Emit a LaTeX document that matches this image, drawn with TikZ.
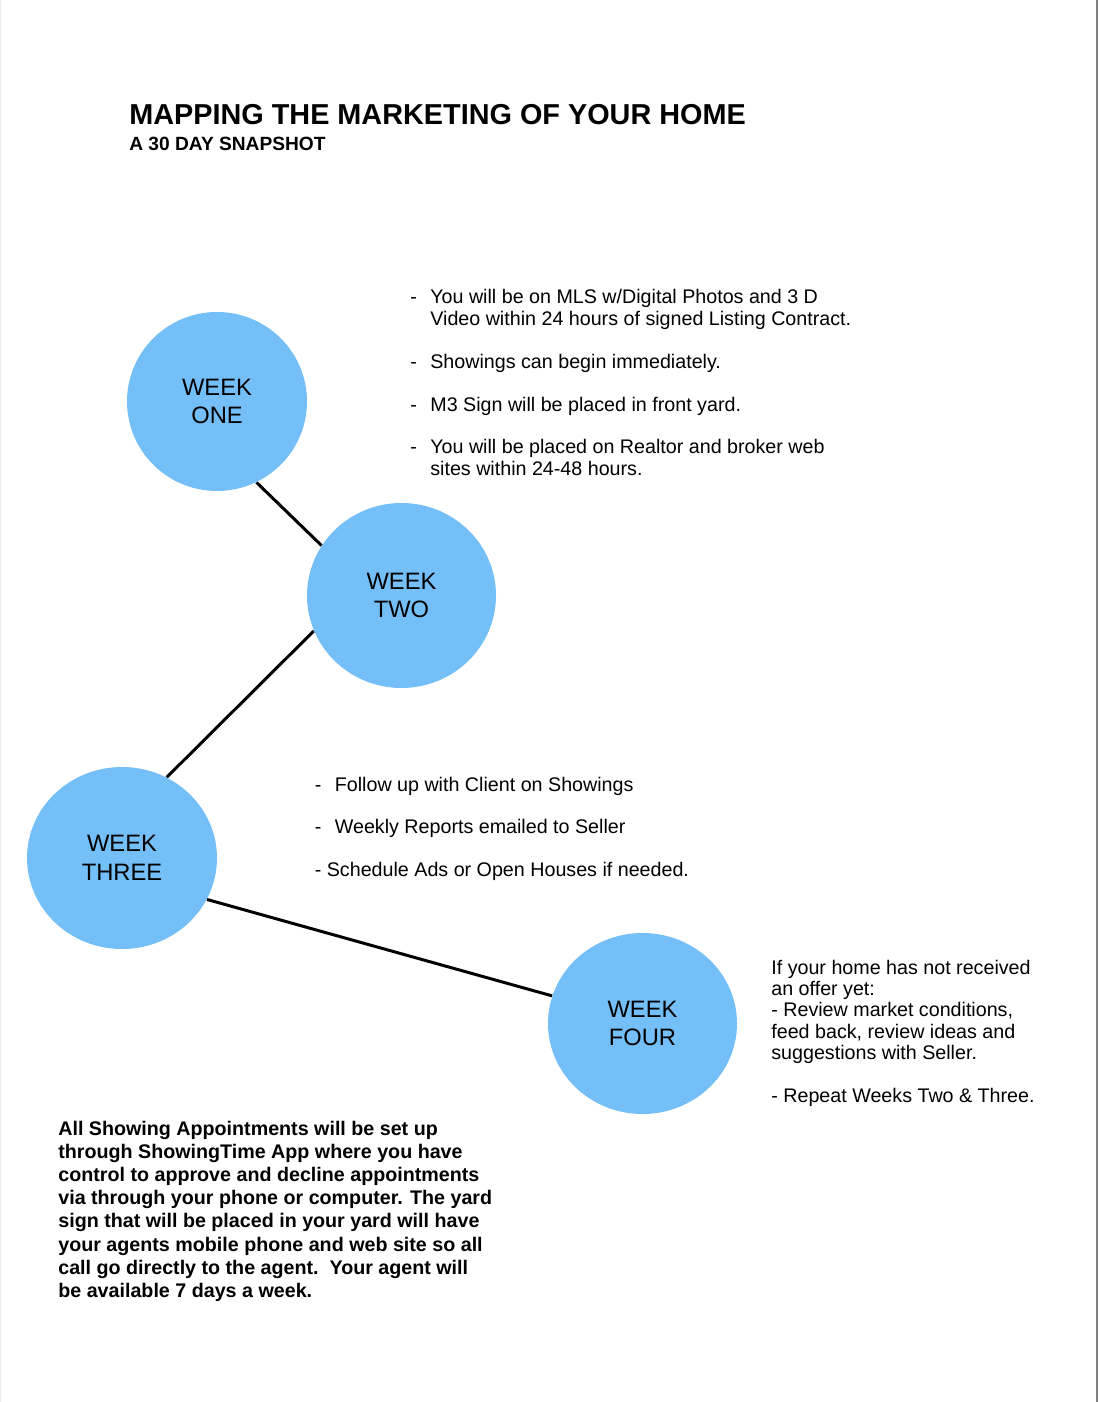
\documentclass[tikz,border=0pt]{standalone}
\usepackage{fontspec}
\setmainfont{Liberation Sans}
\usetikzlibrary{shapes.geometric}
\pgfdeclarelayer{edgelayer}
\pgfdeclarelayer{nodelayer}
\pgfsetlayers{edgelayer,nodelayer,main}
\definecolor{weekblue}{RGB}{116,191,247}
\tikzstyle{edge}=[draw=black, line width=1.7pt]
\tikzstyle{week}=[ellipse, fill=weekblue, inner sep=0, align=center, font=\fontsize{13.5}{16.2}\selectfont]
\tikzstyle{note}=[anchor=base west, inner sep=0, font=\fontsize{11.2}{12.19}\selectfont]
\tikzstyle{boldnote}=[anchor=base west, inner sep=0, font=\fontsize{11.2}{13.21}\selectfont\bfseries]
\tikzstyle{heading}=[anchor=base west, inner sep=0, font=\fontsize{16.4}{19}\selectfont\bfseries]
\tikzstyle{subheading}=[anchor=base west, inner sep=0, font=\fontsize{10.9}{13}\selectfont\bfseries]
\newcommand{\rows}[1]{\begin{tabular}[t]{@{}l@{}}#1\end{tabular}}
\newcommand{\dashrows}[1]{\begin{tabular}[t]{@{}p{0.4cm}@{}l@{}}#1\end{tabular}}

\begin{document}
\begin{tikzpicture}
			\useasboundingbox (0, 0) rectangle (21.96, -28.04);
			\draw [black!7, line width=0.02cm] (0.01, 0) -- (0.01, -28.04);
			\draw [black!50, line width=0.04cm] (21.93, 0) -- (21.93, -28.04);
			\begin{pgfonlayer}{nodelayer}
			\node [style=heading] (title) at (2.58, -2.5) {MAPPING THE MARKETING OF YOUR HOME};
			\node [style=subheading] (subtitle) at (2.58, -3.02) {A 30 DAY SNAPSHOT};
			\node [style=week, minimum width=3.6cm, minimum height=3.58cm] (one) at (4.34, -8.03) {WEEK\\ONE};
			\node [style=week, minimum width=3.78cm, minimum height=3.7cm] (two) at (8.03, -11.91) {WEEK\\TWO};
			\node [style=week, minimum width=3.8cm, minimum height=3.64cm] (three) at (2.44, -17.16) {WEEK\\THREE};
			\node [style=week, minimum width=3.78cm, minimum height=3.62cm] (four) at (12.85, -20.47) {WEEK\\FOUR};
			\node [style=note] (onetext) at (8.2, -6.08) {\dashrows{-&You will be on MLS w/Digital Photos and 3 D\\
				&Video within 24 hours of signed Listing Contract.\\ \\
				-&Showings can begin immediately.\\ \\
				-&M3 Sign will be placed in front yard.\\ \\
				-&You will be placed on Realtor and broker web\\
				&sites within 24-48 hours.}};
			\node [style=note] (threetext) at (6.29, -15.82) {\dashrows{-&Follow up with Client on Showings\\ \\
				-&Weekly Reports emailed to Seller\\ \\
				\multicolumn{2}{@{}l@{}}{- Schedule Ads or Open Houses if needed.}}};
			\node [style=note] (fourtext) at (15.42, -19.48) {\rows{If your home has not received\\
				an offer yet:\\
				- Review market conditions,\\
				feed back, review ideas and\\
				suggestions with Seller.\\ \\
				- Repeat Weeks Two \& Three.}};
			\node [style=boldnote] (showingtext) at (1.16, -22.7) {\rows{All Showing Appointments will be set up\\
				through ShowingTime App where you have\\
				control to approve and decline appointments\\
				via through your phone or computer. The yard\\
				sign that will be placed in your yard will have\\
				your agents mobile phone and web site so all\\
				call go directly to the agent.\ \ Your agent will\\
				be available 7 days a week.}};
			\end{pgfonlayer}
			\begin{pgfonlayer}{edgelayer}
			\draw [style=edge] (one.-64) to (two.148);
			\draw [style=edge] (two.202) to (three.61);
			\draw [style=edge] (three.-26) to (four.163);
			\end{pgfonlayer}
\end{tikzpicture}
\end{document}
